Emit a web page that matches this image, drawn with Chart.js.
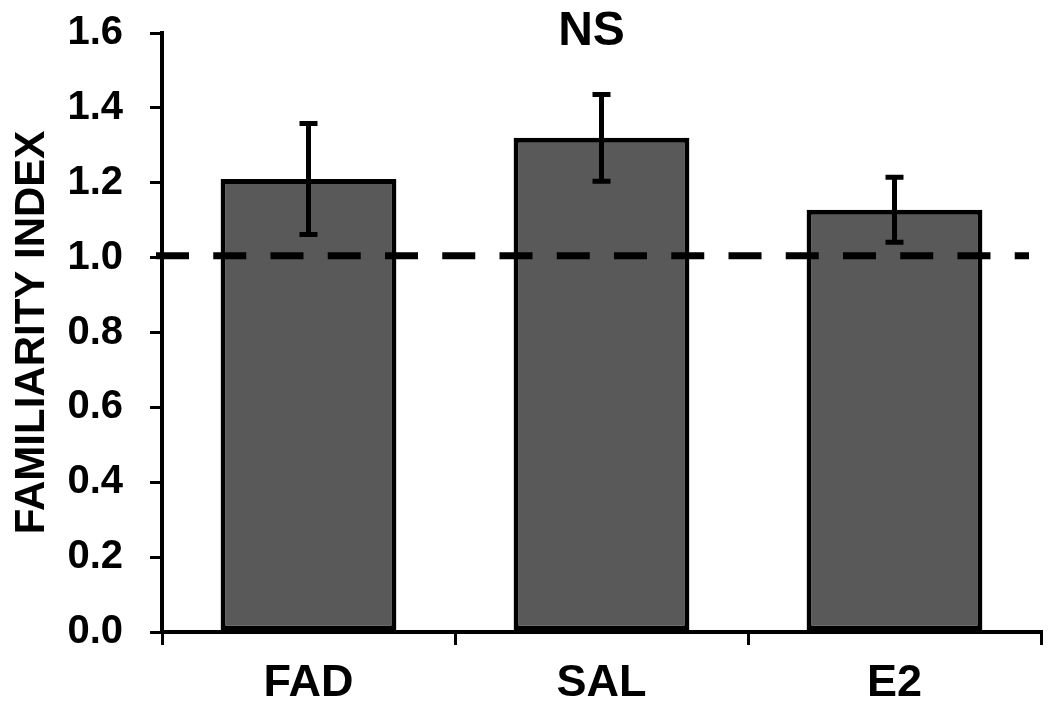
<!DOCTYPE html>
<html>
<head>
<meta charset="utf-8">
<script src="https://cdn.jsdelivr.net/npm/chart.js@4.4.1/dist/chart.umd.min.js"></script>
<style>
  html, body { margin: 0; padding: 0; background: #fff; }
  #wrap { width: 1050px; height: 706px; position: relative; }
</style>
</head>
<body>
<div id="wrap"><canvas id="grafico"></canvas></div>
<script>
// dati
var categorie = ["FAD", "SAL", "E2"];
var medie = [1.21, 1.32, 1.128];
var errori = [0.148, 0.116, 0.087];
var yTickValori = [0, 0.2, 0.4, 0.6, 0.8, 1.0, 1.2, 1.4, 1.6];
var yTickEtichette = ["0.0", "0.2", "0.4", "0.6", "0.8", "1.0", "1.2", "1.4", "1.6"];
var rifLinea = 1.0;
var testoSig = "NS";
var titoloY = "FAMILIARITY INDEX";

var FONT = "'Liberation Sans', Arial, sans-serif";

var extra = {
    id: 'extra',
    afterDatasetsDraw: function (chart) {
        var ctx = chart.ctx;
        var y = chart.scales.y;
        var area = chart.chartArea;
        var barre = chart.getDatasetMeta(0).data;
        ctx.save();
        ctx.strokeStyle = "#000";
        ctx.lineCap = "butt";

        // barre di errore
        ctx.lineWidth = 5;
        for (var i = 0; i < categorie.length; i++) {
            var px = barre[i].x;
            var alto = y.getPixelForValue(medie[i] + errori[i]);
            var basso = y.getPixelForValue(medie[i] - errori[i]);
            ctx.beginPath();
            ctx.moveTo(px, alto);
            ctx.lineTo(px, basso);
            ctx.stroke();
            ctx.beginPath();
            ctx.moveTo(px - 9, alto);
            ctx.lineTo(px + 9, alto);
            ctx.moveTo(px - 9, basso);
            ctx.lineTo(px + 9, basso);
            ctx.stroke();
        }

        // linea tratteggiata
        var yr = y.getPixelForValue(rifLinea) - 2;
        ctx.lineWidth = 7;
        ctx.setLineDash([33, 24.25]);
        ctx.beginPath();
        ctx.moveTo(area.left - 6, yr);
        ctx.lineTo(area.right - 12, yr);
        ctx.stroke();
        ctx.setLineDash([]);

        // NS
        ctx.fillStyle = "#000";
        ctx.font = "bold 48px " + FONT;
        ctx.textAlign = "center";
        ctx.textBaseline = "middle";
        ctx.fillText(testoSig, barre[1].x - 10, area.top - 1);
        ctx.restore();
    }
};

var ctx = document.getElementById("grafico");
var grafico = new Chart(ctx, {
    type: 'bar',
    data: {
        labels: categorie,
        datasets: [{
            data: medie,
            backgroundColor: "#595959",
            borderColor: "#000",
            borderWidth: 5,
            borderSkipped: false,
            barPercentage: 0.6,
            categoryPercentage: 1.0
        }]
    },
    options: {
        responsive: true,
        maintainAspectRatio: false,
        animation: false,
        layout: {
            padding: { left: 0, top: 33, right: 9, bottom: 0 }
        },
        plugins: {
            legend: { display: false },
            tooltip: { enabled: false },
            title: { display: false }
        },
        scales: {
            x: {
                grid: {
                    display: true,
                    drawOnChartArea: false,
                    drawTicks: true,
                    tickLength: 13,
                    color: "#000",
                    lineWidth: 3
                },
                border: { display: true, color: "#000", width: 4 },
                ticks: {
                    color: "#000",
                    padding: 12,
                    font: { family: FONT, size: 45, weight: "bold" }
                },
                afterFit: function (scale) { scale.height = 74; }
            },
            y: {
                min: 0,
                max: 1.6,
                afterBuildTicks: function (scale) {
                    scale.ticks = yTickValori.map(function (v) { return { value: v }; });
                },
                grid: {
                    display: true,
                    drawOnChartArea: false,
                    drawTicks: true,
                    tickLength: 12,
                    color: "#000",
                    lineWidth: 3
                },
                border: { display: true, color: "#000", width: 4 },
                ticks: {
                    color: "#000",
                    padding: 27,
                    font: { family: FONT, size: 40, weight: "bold" },
                    callback: function (v, i) { return yTickEtichette[i]; }
                },
                title: {
                    display: true,
                    text: titoloY,
                    color: "#000",
                    padding: { top: 7, bottom: 0 },
                    font: { family: FONT, size: 42, weight: "bold" }
                },
                afterFit: function (scale) {
                    scale.width = 162;
                    scale.paddingTop = 0;
                    scale.paddingBottom = 0;
                }
            }
        }
    },
    plugins: [extra]
});
</script>
</body>
</html>
